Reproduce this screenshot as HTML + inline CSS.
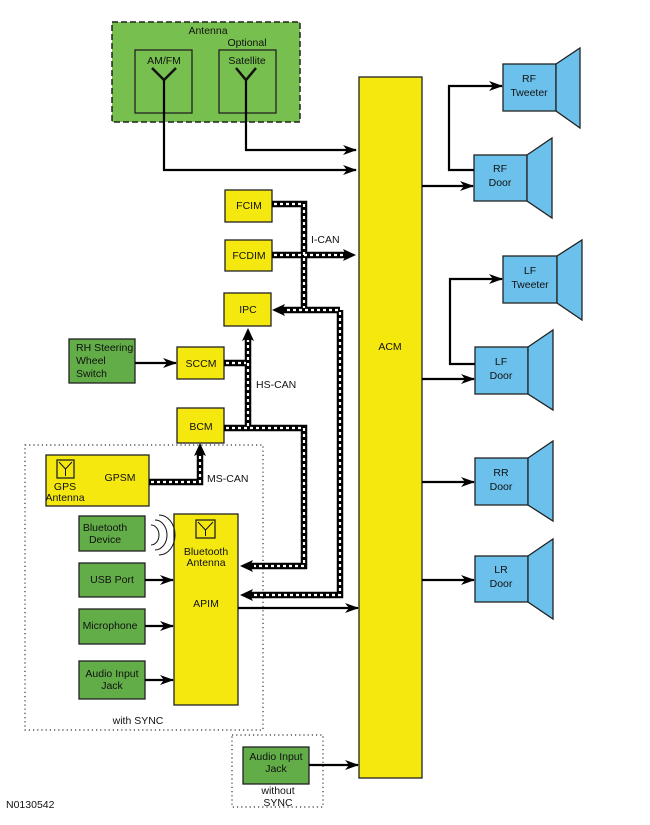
<!DOCTYPE html>
<html><head><meta charset="utf-8"><style>
body{margin:0;background:#fff;}
svg text{font-family:"Liberation Sans",sans-serif;font-size:10.5px;fill:#111;}
</style></head><body>
<svg width="650" height="820" viewBox="0 0 650 820" xmlns="http://www.w3.org/2000/svg">
<defs>
<marker id="a" markerWidth="14" markerHeight="10" refX="13" refY="5" orient="auto" markerUnits="userSpaceOnUse"><path d="M0,0 L14,5 L0,10 L4,5z" fill="#000"/></marker>
</defs>
<g stroke="#222" stroke-width="1.3">
<rect x="112" y="22" width="188" height="100" fill="#77bf4e" stroke-dasharray="6,3" stroke-width="1.5"/>
<rect x="135" y="50" width="57" height="63" fill="#77bf4e"/>
<rect x="219" y="50" width="57" height="63" fill="#77bf4e"/>
<rect x="359" y="77" width="63" height="701" fill="#f5e80e"/>
<rect x="225" y="190" width="47" height="32" fill="#f5e80e"/>
<rect x="225" y="240" width="47" height="31" fill="#f5e80e"/>
<rect x="224" y="293" width="47" height="33" fill="#f5e80e"/>
<rect x="177" y="347" width="47" height="32" fill="#f5e80e"/>
<rect x="177" y="408" width="47" height="35" fill="#f5e80e"/>
<rect x="46" y="455" width="103" height="51" fill="#f5e80e"/>
<rect x="174" y="514" width="64" height="191" fill="#f5e80e"/>
<rect x="69" y="339" width="66" height="44" fill="#62ad48"/>
<rect x="79" y="516" width="66" height="35" fill="#62ad48"/>
<rect x="79" y="563" width="66" height="34" fill="#62ad48"/>
<rect x="79" y="609" width="66" height="35" fill="#62ad48"/>
<rect x="79" y="661" width="66" height="38" fill="#62ad48"/>
<rect x="243" y="747" width="66" height="37" fill="#62ad48"/>
<g fill="#6cc1ec">
<rect x="503" y="64" width="53" height="47"/><path d="M556,64 L580,48 L580,128 L556,111z"/>
<rect x="474" y="155" width="53" height="46"/><path d="M527,155 L552,138 L552,218 L527,201z"/>
<rect x="503" y="256" width="54" height="47"/><path d="M557,256 L582,240 L582,320 L557,303z"/>
<rect x="475" y="347" width="53" height="47"/><path d="M528,347 L553,330 L553,410 L528,394z"/>
<rect x="475" y="458" width="53" height="47"/><path d="M528,458 L553,441 L553,521 L528,505z"/>
<rect x="475" y="556" width="53" height="46"/><path d="M528,556 L553,539 L553,619 L528,602z"/>
</g>
<rect x="57" y="460" width="17" height="18" fill="none"/>
<rect x="196" y="520" width="19" height="18" fill="none"/>
</g>
<g stroke="#111" fill="none">
<path d="M59,462 L65.5,469 L72,462 M65.5,469 V476" stroke-width="1"/>
<path d="M198,522 L205.5,530 L213,522 M205.5,530 V536" stroke-width="1"/>
<path d="M152,68 L164,80 L176,68 M236,68 L246,80 L256,68" stroke-width="2.5"/>
<path d="M151,525 a8,10 0 0 1 0,20 M155,520 a12,15 0 0 1 0,30 M159,515 a16,20 0 0 1 0,40" stroke-width="1"/>
</g>
<g fill="none" stroke="#333" stroke-width="1.2" stroke-dasharray="1.2,3">
<rect x="25" y="445" width="238" height="285"/>
<rect x="232" y="735" width="91" height="72"/>
</g>
<g stroke="#000" stroke-width="2.2" fill="none" marker-end="url(#a)">
<path d="M164,80 V170 H356"/>
<path d="M246,80 V150 H356"/>
<path d="M422,186 H473"/>
<path d="M474,170 H449 V86 H502"/>
<path d="M422,379 H474"/>
<path d="M475,364 H450 V279 H502"/>
<path d="M422,482 H474"/>
<path d="M422,580 H474"/>
<path d="M135,363 H176"/>
<path d="M145,580 H173"/>
<path d="M145,626 H173"/>
<path d="M145,680 H173"/>
<path d="M238,608 H358"/>
<path d="M309,765 H358"/>
</g>
<g fill="none" stroke="#000" stroke-width="6.5">
<path d="M272,204 H304 V310"/>
<path d="M272,255 H346"/>
<path d="M340,310 H280"/>
<path d="M340,310 V595 H250"/>
<path d="M224,428 H304 V566 H250"/>
<path d="M224,363 H248"/>
<path d="M248,428 V336"/>
<path d="M149,482 H200 V450"/>
</g>
<g fill="none" stroke="#fff" stroke-width="2.2" stroke-dasharray="3,3">
<path d="M274,204 H304 V308"/>
<path d="M274,255 H344"/>
<path d="M338,310 H284"/>
<path d="M340,312 V595 H254"/>
<path d="M226,428 H304 V566 H254"/>
<path d="M226,363 H246"/>
<path d="M248,426 V340"/>
<path d="M151,482 H200 V452"/>
</g>
<g fill="#000">
<path d="M356,255 L343,249 L346,255 L343,261z"/>
<path d="M272,310 L285,304 L282,310 L285,316z"/>
<path d="M248,328 L242,341 L248,338 L254,341z"/>
<path d="M200,443 L194,456 L200,453 L206,456z"/>
<path d="M240,595 L253,589 L250,595 L253,601z"/>
<path d="M240,566 L253,560 L250,566 L253,572z"/>
</g>
<g text-anchor="middle">
<text x="208" y="34">Antenna</text>
<text x="247" y="46">Optional</text>
<text x="164" y="64">AM/FM</text>
<text x="247" y="64">Satellite</text>
<text x="390" y="350">ACM</text>
<text x="529" y="82">RF</text><text x="529" y="96">Tweeter</text>
<text x="500" y="172">RF</text><text x="500" y="186">Door</text>
<text x="530" y="274">LF</text><text x="530" y="288">Tweeter</text>
<text x="501" y="365">LF</text><text x="501" y="379">Door</text>
<text x="501" y="476">RR</text><text x="501" y="490">Door</text>
<text x="501" y="573">LR</text><text x="501" y="587">Door</text>
<text x="249" y="209">FCIM</text>
<text x="249" y="259">FCDIM</text>
<text x="248" y="313">IPC</text>
<text x="201" y="367">SCCM</text>
<text x="201" y="430" font-size="11.5">BCM</text>
<text x="120" y="481" font-size="11.5">GPSM</text>
<text x="65" y="490" font-size="11.5">GPS</text>
<text x="65" y="501" font-size="11.5">Antenna</text>
<text x="206" y="555">Bluetooth</text>
<text x="206" y="566">Antenna</text>
<text x="206" y="607">APIM</text>
<text x="105" y="531">Bluetooth</text>
<text x="105" y="543">Device</text>
<text x="112" y="583">USB Port</text>
<text x="110" y="629">Microphone</text>
<text x="112" y="677">Audio  Input</text>
<text x="112" y="689">Jack</text>
<text x="276" y="760">Audio  Input</text>
<text x="276" y="772">Jack</text>
<text x="278" y="794">without</text>
<text x="278" y="806">SYNC</text>
<text x="138" y="724">with SYNC</text>
</g>
<text x="76" y="351">RH Steering</text>
<text x="76" y="364">Wheel</text>
<text x="76" y="377">Switch</text>
<text x="311" y="243">I-CAN</text>
<text x="256" y="388">HS-CAN</text>
<text x="207" y="482">MS-CAN</text>
<text x="6" y="808">N0130542</text>
</svg>
</body></html>
